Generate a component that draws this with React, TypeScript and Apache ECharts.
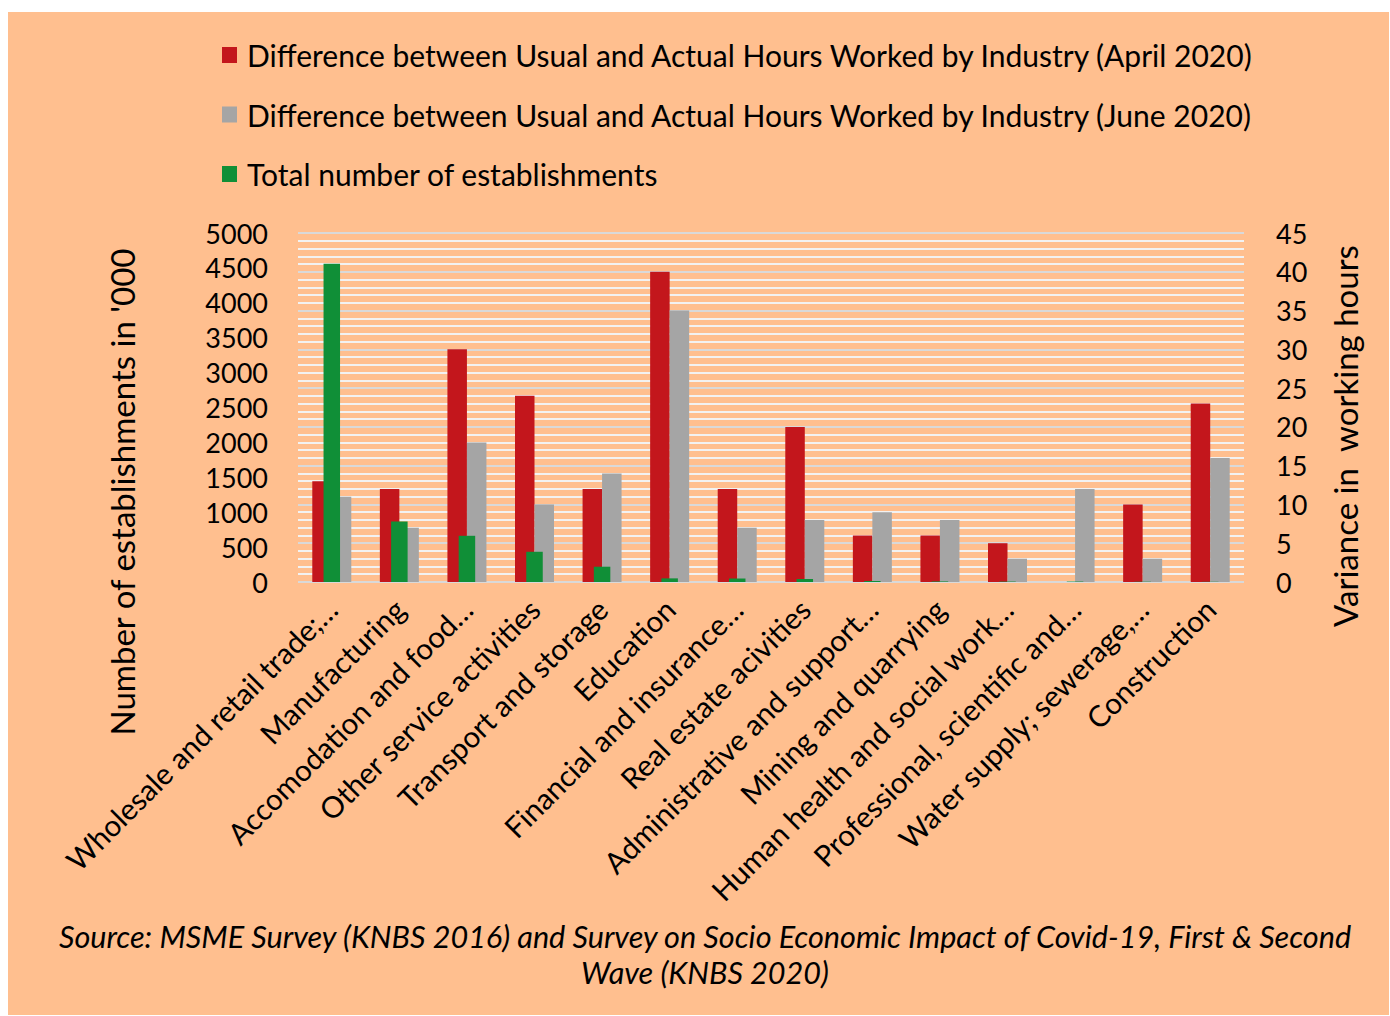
import React, { useEffect, useRef } from "react";
import * as echarts from "echarts";

const categories = [
  "Wholesale and retail trade;…",
  "Manufacturing",
  "Accomodation and food…",
  "Other service activities",
  "Transport and storage",
  "Education",
  "Financial and insurance…",
  "Real estate acivities",
  "Administrative and support…",
  "Mining and quarrying",
  "Human health and social work…",
  "Professional, scientific and…",
  "Water supply; sewerage,…",
  "Construction",
];

const aprilHours = [13, 12, 30, 24, 12, 40, 12, 20, 6, 6, 5, 0, 10, 23];
const juneHours = [11, 7, 18, 10, 14, 35, 7, 8, 9, 8, 3, 12, 3, 16];
const establishments = [4560, 867, 662, 433, 219, 52, 50, 43, 14, 8, 6, 6, 4, 3];

const seriesNames = [
  "Difference between Usual and Actual Hours Worked by Industry (April 2020)",
  "Difference between Usual and Actual Hours Worked by Industry (June 2020)",
  "Total number of establishments",
];

const leftTitle = "Number of establishments in '000";
const rightTitle = "Variance in  working hours";
const sourceText =
  "Source: MSME Survey (KNBS 2016) and Survey on Socio Economic Impact of Covid-19, First & Second\nWave (KNBS 2020)";

const FONT = "Lato, 'Open Sans', sans-serif";

export default function App() {
  const ref = useRef<HTMLDivElement>(null);
  useEffect(() => {
    if (!ref.current) return;
    const chart = echarts.init(ref.current, undefined, { renderer: "svg" });
    chart.setOption({
      animation: false,
      backgroundColor: "#FFBF8F",
      textStyle: { fontFamily: FONT },
      legend: {
        orient: "vertical",
        left: 214,
        top: 27,
        padding: 0,
        itemWidth: 15,
        itemHeight: 16,
        itemGap: 27.5,
        icon: "rect",
        data: seriesNames,
        textStyle: { fontSize: 30, color: "#000", fontFamily: FONT, lineHeight: 32, padding: [0, 0, 0, 5] },
      },
      grid: { left: 290, right: 145, top: 221, bottom: 433, containLabel: false },
      xAxis: [
        {
          type: "category",
          data: categories,
          axisLine: { show: false },
          axisTick: { show: false },
          axisLabel: { rotate: 45, fontSize: 29.5, color: "#000", margin: 22, interval: 0, fontFamily: FONT },
        },
        {
          type: "category",
          data: categories,
          show: false,
        },
      ],
      yAxis: [
        {
          type: "value",
          position: "left",
          min: 0,
          max: 5000,
          interval: 500,
          axisLine: { show: false },
          axisTick: { show: false },
          splitLine: { show: false },
          axisLabel: {
            fontSize: 27,
            color: "#000",
            margin: 30,
            fontFamily: FONT,
            formatter: (v: number) => String(v),
          },
        },
        {
          type: "value",
          position: "right",
          min: 0,
          max: 45,
          interval: 5,
          axisLine: { show: false },
          axisTick: { show: false },
          splitLine: { show: true, lineStyle: { color: "#D9D9D9", width: 2 } },
          minorTick: { show: false, splitNumber: 5 },
          minorSplitLine: { show: true, lineStyle: { color: "#F2F2F2", width: 2 } },
          axisLabel: { fontSize: 27, color: "#000", margin: 32, fontFamily: FONT },
        },
      ],
      series: [
        {
          name: seriesNames[0],
          type: "bar",
          xAxisIndex: 0,
          yAxisIndex: 1,
          data: aprilHours,
          barWidth: 19.5,
          barGap: "0%",
          itemStyle: { color: "#C3161C" },
          z: 2,
        },
        {
          name: seriesNames[1],
          type: "bar",
          xAxisIndex: 0,
          yAxisIndex: 1,
          data: juneHours,
          barWidth: 19.5,
          barGap: "0%",
          itemStyle: { color: "#A5A5A5" },
          z: 2,
        },
        {
          name: seriesNames[2],
          type: "bar",
          xAxisIndex: 1,
          yAxisIndex: 0,
          data: establishments,
          barWidth: 16.5,
          itemStyle: { color: "#108F37" },
          z: 3,
        },
      ],
      graphic: [
        {
          type: "text",
          x: 114,
          y: 480,
          rotation: Math.PI / 2,
          style: {
            text: leftTitle,
            fontSize: 33,
            fontFamily: FONT,
            fill: "#000",
            align: "center",
            verticalAlign: "middle",
          },
        },
        {
          type: "text",
          x: 1337,
          y: 424,
          rotation: Math.PI / 2,
          style: {
            text: rightTitle,
            fontSize: 33,
            fontFamily: FONT,
            fill: "#000",
            align: "center",
            verticalAlign: "middle",
          },
        },
        {
          type: "text",
          x: 697,
          y: 942,
          style: {
            text: sourceText,
            fontSize: 30.6,
            fontStyle: "italic",
            fontFamily: FONT,
            fill: "#000",
            align: "center",
            verticalAlign: "middle",
            lineHeight: 36,
          },
        },
      ],
    });
    return () => chart.dispose();
  }, []);
  return (
    <div
      ref={ref}
      style={{ position: "absolute", left: 8, top: 12, width: 1381, height: 1003 }}
    />
  );
}
